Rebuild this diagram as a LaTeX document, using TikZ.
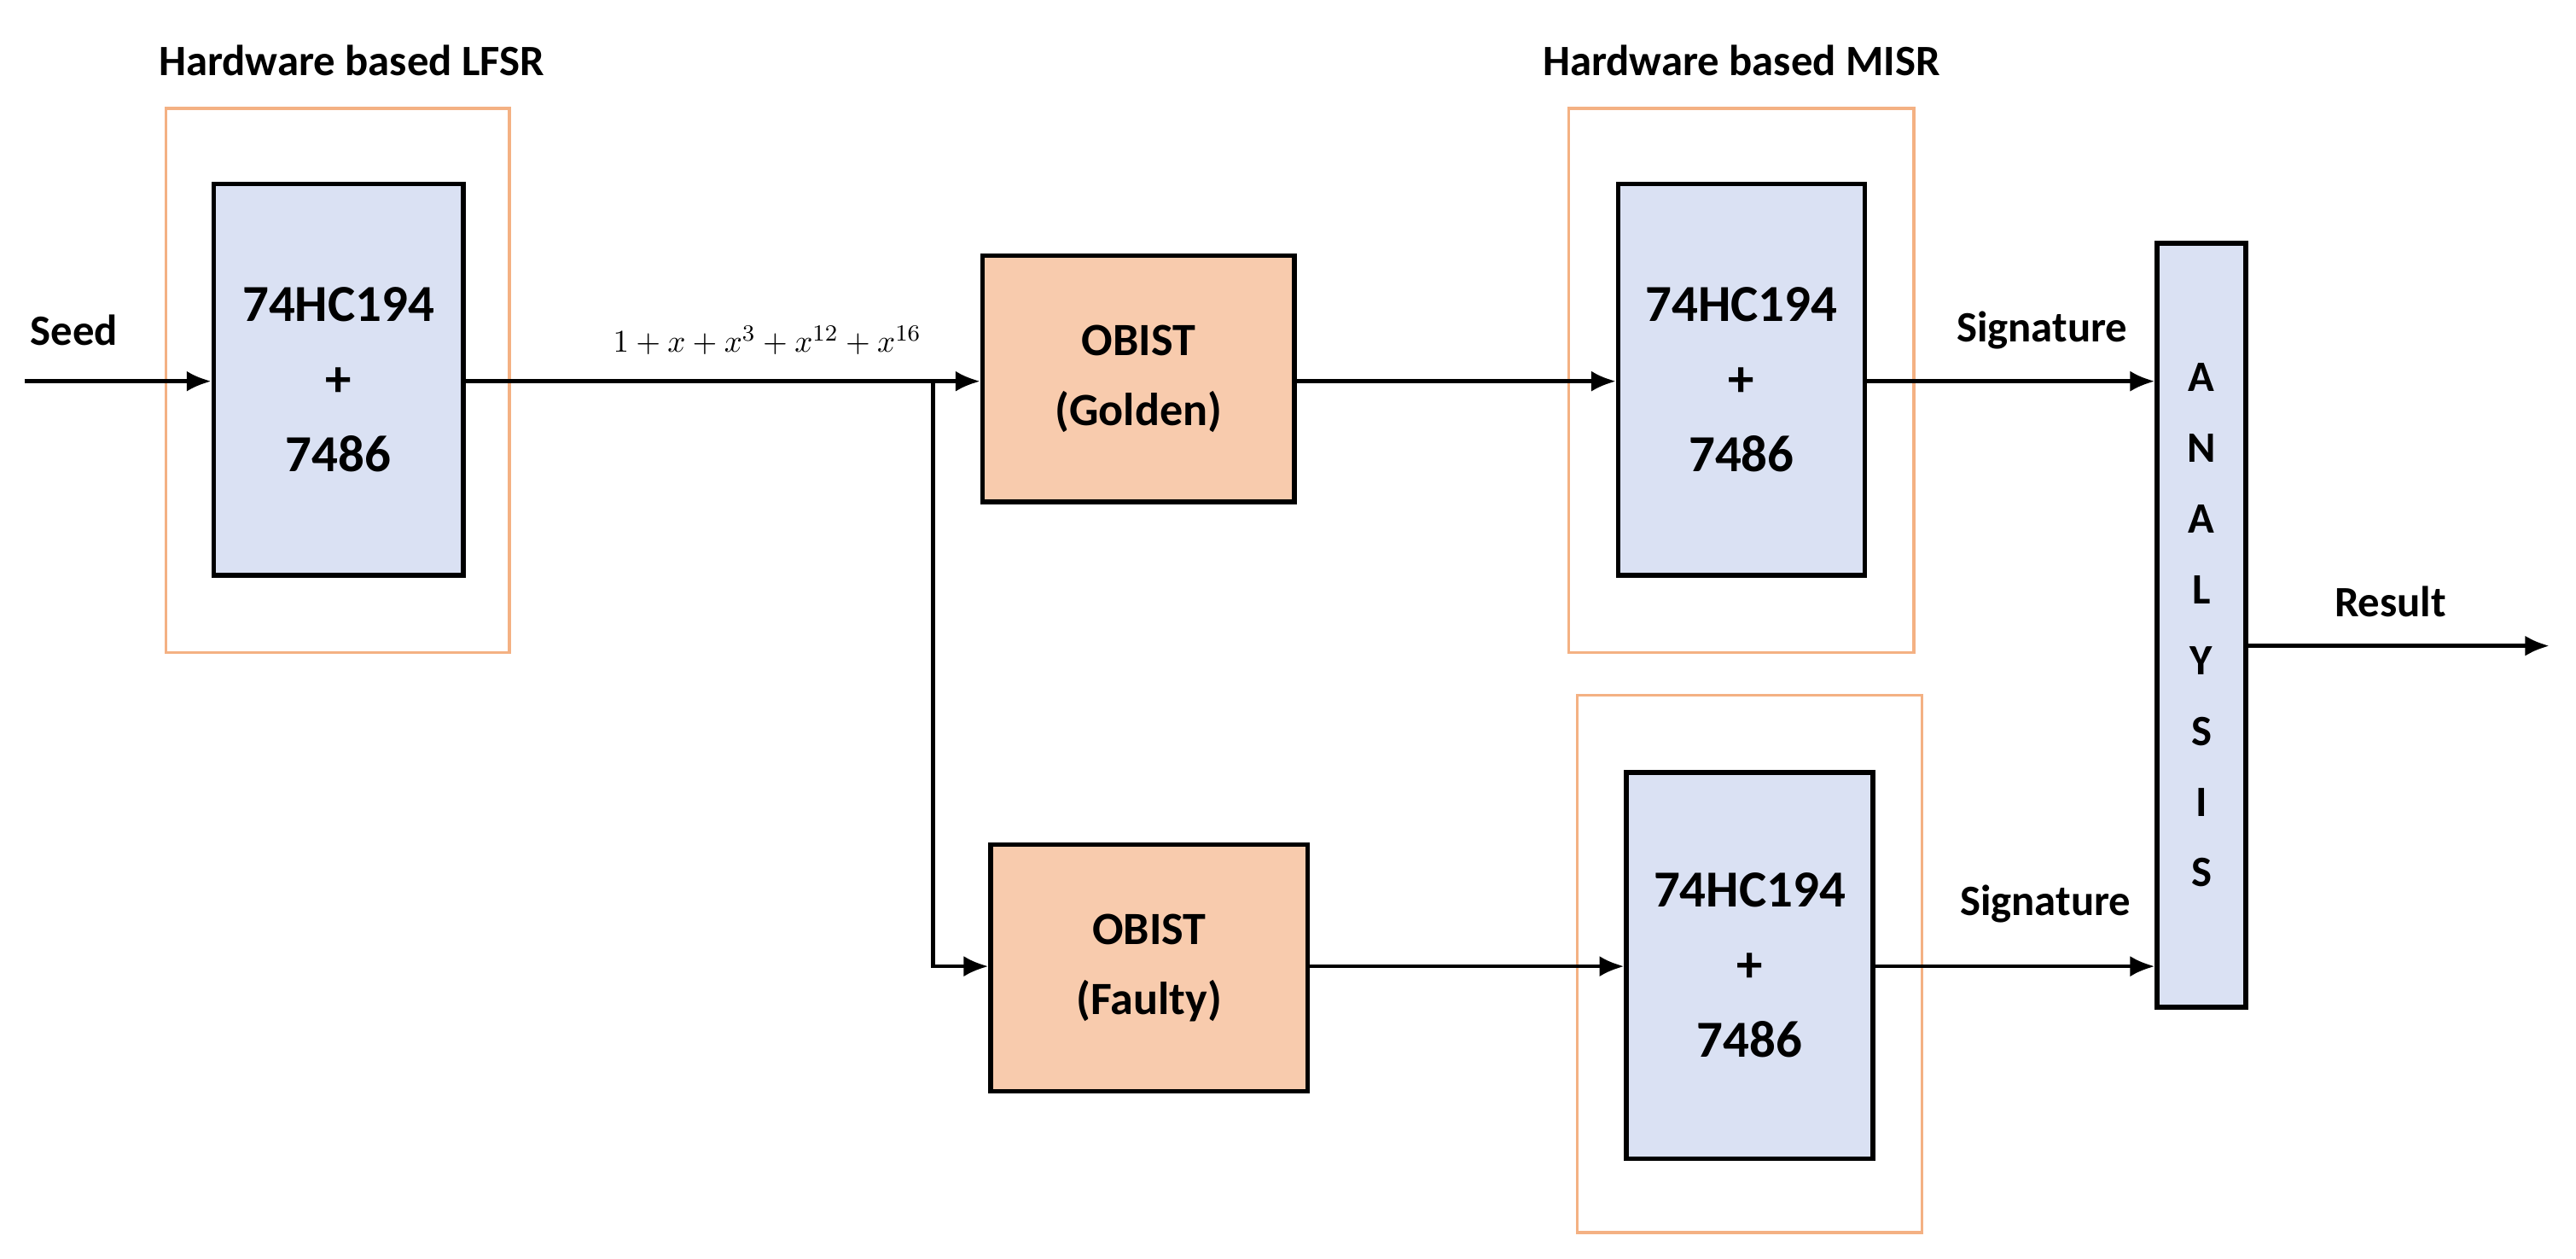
\documentclass[tikz,border=0pt]{standalone}
\usepackage{fontspec}
\setmainfont{Carlito}
\usetikzlibrary{positioning}
\usetikzlibrary{arrows.meta}
\tikzset{>={Latex[width=2.5mm,length=3mm]}}
\definecolor{chipblue}{RGB}{218,225,243}
\definecolor{obistorange}{RGB}{248,203,173}
\definecolor{frameorange}{RGB}{244,177,131}
\tikzset{
    chip/.style={draw, line width=1.6pt, fill=chipblue, align=center, font=\fontsize{18}{26}\selectfont\bfseries},
    obist/.style={draw, line width=1.6pt, fill=obistorange, align=center, minimum width=3.8cm, minimum height=3cm, font=\fontsize{16}{24}\selectfont\bfseries},
    frame/.style={draw=frameorange, line width=1pt},
    lbl/.style={font=\fontsize{15}{18}\selectfont\bfseries},
}

\begin{document}
\begin{tikzpicture}[x=0.02cm, y=-0.02cm]
    \useasboundingbox (0,0) rectangle (1568,766);
    % LFSR
    \node (lfsrbox) [frame, minimum width=4.18cm, minimum height=6.62cm] at (205.5,231.5) {};
    \node (lfsr) [chip, minimum width=3.04cm, minimum height=4.76cm] at (206,231) {74HC194\\+\\7486};
    \node (lfsrlbl) [lbl] at (214,37) {Hardware based LFSR};
    \coordinate (seed) at (15,232);
    \node (seedlbl) [lbl] at (45,201) {Seed};
    % OBIST
    \node (golden) [obist] at (693,230.5) {OBIST\\(Golden)};
    \node (faulty) [obist, minimum width=3.86cm] at (699.5,589) {OBIST\\(Faulty)};
    \coordinate (fork) at (568,232);
    \node (poly) [font=\fontsize{11}{13}\selectfont] at (467,207) {$1+x+x^3+x^{12}+x^{16}$};
    % MISR
    \node (misrbox1) [frame, minimum width=4.2cm, minimum height=6.62cm] at (1060,231.5) {};
    \node (misr1) [chip, minimum width=3cm, minimum height=4.76cm] at (1060,231) {74HC194\\+\\7486};
    \node (misrlbl) [lbl] at (1060,37) {Hardware based MISR};
    \node (misrbox2) [frame, minimum width=4.2cm, minimum height=6.54cm] at (1065,586.5) {};
    \node (misr2) [chip, minimum width=3cm, minimum height=4.7cm] at (1065,587.5) {74HC194\\+\\7486};
    % analysis
    \node (ana) [chip, minimum width=1.08cm, minimum height=9.3cm, font=\fontsize{15}{24.5}\selectfont\bfseries] at (1340,380.5) {A\\N\\A\\L\\Y\\S\\I\\S};
    \coordinate (res) at (1552,393);
    \node (reslbl) [lbl] at (1455,366) {Result};
    \node (sig1) [lbl] at (1243,201) {Signature};
    \node (sig2) [lbl] at (1245,550) {Signature};

    \draw [->, line width=1.3pt] (seed) -- (lfsr.west |- seed);
    \draw [->, line width=1.3pt] (lfsr.east |- seed) -- (golden.west |- seed);
    \draw [->, line width=1.3pt] (fork) |- (faulty.west |- 0,588);
    \draw [->, line width=1.3pt] (golden.east |- seed) -- (misr1.west |- seed);
    \draw [->, line width=1.3pt] (faulty.east |- 0,588) -- (misr2.west |- 0,588);
    \draw [->, line width=1.3pt] (misr1.east |- seed) -- (ana.west |- seed);
    \draw [->, line width=1.3pt] (misr2.east |- 0,588) -- (ana.west |- 0,588);
    \draw [->, line width=1.6pt] (ana.east |- res) -- (res);
\end{tikzpicture}
\end{document}
